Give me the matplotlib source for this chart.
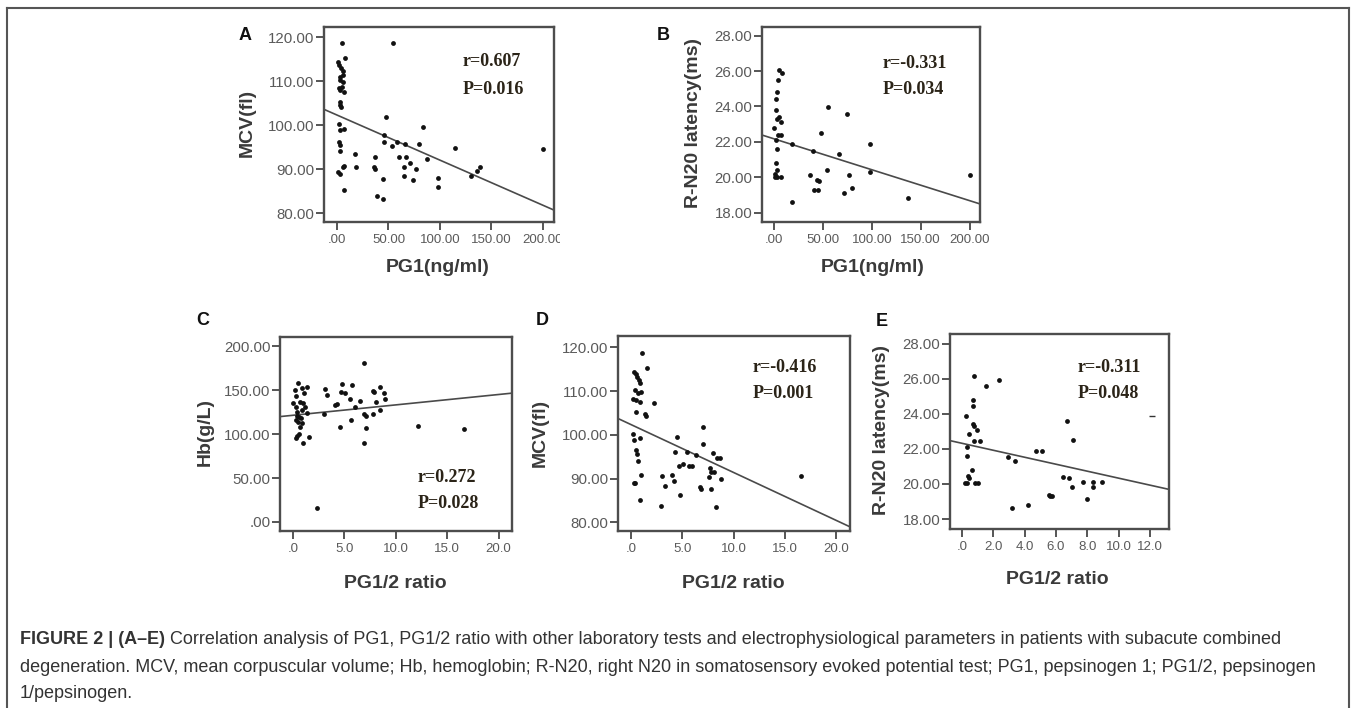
import matplotlib
matplotlib.use("Agg")
import matplotlib.pyplot as plt
from matplotlib.transforms import Bbox, TransformedBbox
from matplotlib.lines import Line2D

W, H = 1357, 708

# ---- data ----
a_x = [4.8, 54.8, 8.1, 0.8, 2.4, 4.0, 5.5, 6.2, 3.0, 6.2, 2.6, 1.6, 3.2, 7.1, 4.8, 2.6, 3.2, 3.9,
       1.6, 6.5, 3.2, 1.6, 2.6, 2.6, 0.6, 2.6, 5.8, 7.1, 6.5, 17.7, 18.7, 36.5, 36.1, 37.1, 38.7,
       44.5, 44.2, 47.7, 45.2, 45.2, 53.9, 58.7, 60.3, 65.5, 65.5, 66.8, 66.1, 71.0, 73.5, 76.8,
       79.4, 83.9, 87.7, 98.4, 98.4, 114.5, 130.6, 135.5, 138.7, 200.0]
a_y = [118.6, 118.6, 115.2, 114.4, 113.7, 112.9, 112.2, 111.4, 111.0, 109.9, 110.3, 108.4, 108.0,
       107.6, 108.7, 105.3, 104.6, 104.2, 100.2, 99.2, 98.9, 96.2, 95.4, 94.1, 89.3, 88.8, 90.5,
       90.8, 85.2, 93.5, 90.5, 92.8, 90.5, 90.1, 83.8, 83.3, 87.7, 101.9, 97.7, 96.2, 95.2, 96.2,
       92.8, 90.5, 88.4, 92.8, 95.8, 91.3, 87.5, 90.0, 95.7, 99.5, 92.2, 88.0, 85.9, 94.7, 88.4,
       89.6, 90.6, 94.5]
a_fit = [102.3, -0.1025]

b_x = [5.5, 7.8, 3.8, 3.4, 2.0, 1.7, 5.1, 3.4, 7.2, 0.3, 4.4, 6.8, 2.0, 3.4, 2.0, 2.7, 1.4, 3.4,
       6.8, 1.0, 18.8, 18.8, 36.9, 39.6, 41.0, 45.4, 44.4, 45.7, 48.1, 54.6, 55.6, 66.2, 71.7,
       74.4, 76.8, 79.9, 98.3, 98.3, 137.2, 200.0]
b_y = [26.06, 25.87, 25.5, 24.8, 24.4, 23.8, 23.4, 23.3, 23.1, 22.8, 22.4, 22.4, 22.1, 21.6, 20.8,
       20.4, 20.2, 20.0, 20.0, 20.0, 18.6, 21.9, 20.1, 21.5, 19.3, 19.3, 19.85, 19.8, 22.5, 20.4,
       23.95, 21.3, 19.1, 23.6, 20.1, 19.4, 21.9, 20.3, 18.8, 20.1]
b_fit = [22.17, -0.01746]

c_x = [0.55, 0.23, 0.88, 1.1, 1.43, 0.32, 0.06, 0.71, 1.04, 0.32, 0.39, 0.88, 1.2, 1.36, 0.39, 0.65,
       0.78, 0.32, 0.55, 0.88, 0.71, 0.45, 0.32, 0.65, 1.62, 1.04, 2.4, 3.12, 3.31, 2.99, 4.12,
       4.29, 4.6, 4.77, 4.68, 5.1, 5.75, 5.58, 5.65, 6.07, 6.49, 6.88, 6.88, 7.14, 7.14, 6.88,
       7.79, 7.79, 7.92, 8.12, 8.44, 8.44, 8.83, 8.99, 12.14, 16.62]
c_y = [158.1, 150.5, 152.4, 147.4, 153.5, 143.6, 135.3, 137.2, 135.3, 131.4, 125.7, 127.6, 131.4,
       123.8, 120.8, 120.0, 118.1, 116.2, 114.3, 112.4, 108.6, 97.9, 95.2, 100.2, 96.4, 90.3,
       16.4, 151.2, 144.8, 123.1, 133.4, 134.5, 107.8, 157.3, 148.6, 147.4, 156.2, 139.8, 116.2,
       131.4, 138.3, 181.0, 123.1, 120.8, 106.7, 90.3, 123.1, 149.7, 148.6, 137.2, 154.3, 127.6,
       147.4, 139.8, 109.3, 105.5]
c_fit = [121.5, 1.185]

d_x = [1.08, 1.54, 0.23, 0.42, 0.56, 0.75, 0.82, 0.33, 0.65, 0.98, 0.16, 0.46, 0.82, 2.19, 0.42,
       1.31, 1.47, 0.16, 0.26, 0.88, 0.49, 0.56, 0.65, 0.92, 0.33, 0.23, 0.82, 3.04, 3.27, 2.94,
       4.02, 4.15, 4.31, 4.48, 4.64, 4.74, 5.07, 5.49, 5.65, 5.98, 6.37, 6.7, 6.8, 7.03, 7.03,
       7.75, 7.68, 7.84, 7.61, 8.0, 8.1, 8.33, 8.4, 8.66, 8.82, 16.6]
d_y = [118.6, 115.2, 114.4, 114.0, 113.3, 112.5, 111.8, 110.2, 109.6, 109.8, 108.3, 107.9, 107.6,
       107.2, 105.3, 104.7, 104.3, 100.2, 98.8, 99.2, 96.5, 95.7, 94.0, 90.8, 89.0, 88.9, 85.2,
       90.6, 88.3, 83.7, 90.9, 89.5, 96.1, 99.5, 92.8, 86.2, 93.4, 96.1, 92.8, 92.8, 95.3, 88.1,
       87.6, 101.8, 98.0, 87.7, 92.3, 91.4, 90.4, 95.9, 91.5, 83.4, 94.6, 94.8, 90.0, 90.6]
d_fit = [102.3, -1.091]

e_x = [0.81, 1.55, 2.4, 0.28, 0.70, 0.70, 0.70, 0.81, 0.96, 0.49, 0.81, 1.13, 0.36, 0.36, 0.64,
       0.42, 0.49, 0.21, 0.36, 0.85, 1.06, 2.97, 3.40, 3.18, 4.2, 4.71, 5.14, 5.58, 5.73, 5.63,
       6.43, 6.73, 6.84, 7.0, 7.07, 7.71, 8.0, 8.34, 8.39, 8.92]
e_y = [26.13, 25.6, 25.9, 23.89, 24.8, 24.42, 23.4, 23.3, 23.1, 22.84, 22.42, 22.42, 22.13, 21.6,
       20.8, 20.46, 20.32, 20.08, 20.04, 20.04, 20.04, 21.56, 21.33, 18.6, 18.8, 21.9, 21.9,
       19.37, 19.31, 19.31, 20.42, 23.6, 20.32, 19.81, 22.51, 20.13, 19.12, 20.13, 19.81, 20.13]
e_dash_x = [12.1]
e_dash_y = [23.9]
e_fit = [22.32, -0.1993]

stats = {
    "A": ("r=0.607", "P=0.016"),
    "B": ("r=-0.331", "P=0.034"),
    "C": ("r=0.272", "P=0.028"),
    "D": ("r=-0.416", "P=0.001"),
    "E": ("r=-0.311", "P=0.048"),
}

caption_bold = "FIGURE 2 | (A\u2013E)"
caption_lines = [
    " Correlation analysis of PG1, PG1/2 ratio with other laboratory tests and electrophysiological parameters in patients with subacute combined",
    "degeneration. MCV, mean corpuscular volume; Hb, hemoglobin; R-N20, right N20 in somatosensory evoked potential test; PG1, pepsinogen 1; PG1/2, pepsinogen",
    "1/pepsinogen.",
]

SANS = "Liberation Sans"
SERIF = "Liberation Serif"
TICK_C = "#5a5a5a"
LABEL_C = "#3a3a3a"


def fmt(v, nd):
    s = f"{v:.{nd}f}"
    if s.startswith("0."):
        s = s[1:]
    return s


fig = plt.figure(figsize=(W / 100, H / 100), dpi=100)


def px(x, y):
    return x / W, 1 - y / H


def panel(box, xs, ys, fit, xlim, ylim, xticks, yticks, xdig, ydig,
          xlabel, ylabel, xl_pos, yl_pos, letter, letter_pos, stat, stat_pos, clip_right=None):
    l, t, r, b = box
    ax = fig.add_axes([l / W, 1 - b / H, (r - l) / W, (b - t) / H])
    ax.scatter(xs, ys, s=12, color="#111111", linewidths=0, zorder=3)
    ax.axline((0, fit[0]), slope=fit[1], color="#4a4a4a", lw=1.2, zorder=2)
    ax.set_xlim(*xlim)
    ax.set_ylim(*ylim)
    ax.set_xticks(xticks)
    ax.set_yticks(yticks)
    ax.set_xticklabels([fmt(v, xdig) for v in xticks], fontsize=9.5, color=TICK_C, family=SANS)
    ax.set_yticklabels([fmt(v, ydig) for v in yticks], fontsize=10.8, color=TICK_C, family=SANS)
    ax.tick_params(direction="out", length=5.5, width=1.4, color="#555555", pad=1.5)
    ax.tick_params(axis="x", pad=3)
    for sp in ax.spines.values():
        sp.set_color("#4d4d4d")
        sp.set_linewidth(1.7)
    ax.set_xlabel(xlabel, fontsize=14, fontweight="bold", color=LABEL_C, family=SANS)
    ax.set_ylabel(ylabel, fontsize=14, fontweight="bold", color=LABEL_C, family=SANS)
    ax.xaxis.set_label_coords(*px(*xl_pos), transform=fig.transFigure)
    ax.yaxis.set_label_coords(*px(*yl_pos), transform=fig.transFigure)
    ax.xaxis.label.set_va("center")
    ax.yaxis.label.set_va("center")
    fig.text(*px(*letter_pos), letter, fontsize=13, fontweight="bold", family=SANS,
             ha="center", va="center", color="#111111")
    sx, sy = stat_pos
    fig.text(*px(sx, sy), stat[0], fontsize=13, fontweight="bold", family=SERIF,
             ha="left", va="center", color="#2b2418")
    fig.text(*px(sx, sy + 27), stat[1], fontsize=13, fontweight="bold", family=SERIF,
             ha="left", va="center", color="#2b2418")
    if clip_right is not None:
        cb = TransformedBbox(Bbox.from_extents(0, 0, clip_right / W, 1), fig.transFigure)
        for lbl in ax.get_xticklabels():
            lbl.set_clip_on(True)
            lbl.set_clip_box(cb)
    return ax


panel((324, 27, 554, 222), a_x, a_y, a_fit, (-12.6, 210.7), (78.0, 122.3),
      [0, 50, 100, 150, 200], [80, 90, 100, 110, 120], 2, 2,
      "PG1(ng/ml)", "MCV(fl)", (438, 268), (247, 123), "A", (245, 35),
      stats["A"], (463, 62), clip_right=560)

panel((762, 27, 980, 222), b_x, b_y, b_fit, (-12.3, 210.7), (17.47, 28.49),
      [0, 50, 100, 150, 200], [18, 20, 22, 24, 26, 28], 2, 2,
      "PG1(ng/ml)", "R-N20 latency(ms)", (873, 268), (693, 123), "B", (663, 35),
      stats["B"], (883, 63), clip_right=990)

panel((280, 337, 512, 531), c_x, c_y, c_fit, (-1.24, 21.3), (-10.3, 210.7),
      [0, 5, 10, 15, 20], [0, 50, 100, 150, 200], 1, 2,
      "PG1/2 ratio", "Hb(g/L)", (395, 583), (205, 432), "C", (203, 320),
      stats["C"], (418, 477))

panel((618, 336, 850, 531), d_x, d_y, d_fit, (-1.31, 21.4), (78.0, 122.6),
      [0, 5, 10, 15, 20], [80, 90, 100, 110, 120], 1, 2,
      "PG1/2 ratio", "MCV(fl)", (733, 583), (540, 433), "D", (542, 320),
      stats["D"], (753, 367))

ax_e = panel((950, 334, 1169, 529), e_x, e_y, e_fit, (-0.75, 13.2), (17.43, 28.55),
             [0, 2, 4, 6, 8, 10, 12], [18, 20, 22, 24, 26, 28], 1, 2,
             "PG1/2 ratio", "R-N20 latency(ms)", (1057, 580), (882, 430), "E", (882, 322),
             stats["E"], (1078, 367))
ax_e.scatter(e_dash_x, e_dash_y, marker="_", s=14, color="#333333", linewidths=1.0, zorder=3)

# outer frame of the figure panel
frame_kw = dict(color="#555555", lw=1.5, transform=fig.transFigure)
fig.add_artist(Line2D([7 / W, 7 / W], [0, 1 - 8 / H], **frame_kw))
fig.add_artist(Line2D([1349 / W, 1349 / W], [0, 1 - 8 / H], **frame_kw))
fig.add_artist(Line2D([7 / W, 1349 / W], [1 - 8 / H, 1 - 8 / H], **frame_kw))

# caption
cap_kw = dict(fontsize=13, family=SANS, color="#333333", va="center", ha="left")
renderer = fig.canvas.get_renderer()
t0 = fig.text(*px(20, 640), caption_bold, fontweight="bold", **cap_kw)
bb = t0.get_window_extent(renderer)
fig.text(bb.x1 / W, 1 - 640 / H, caption_lines[0], **cap_kw)
fig.text(*px(20, 667), caption_lines[1], **cap_kw)
fig.text(*px(20, 694), caption_lines[2], **cap_kw)

fig.savefig("out.png", dpi=100)
